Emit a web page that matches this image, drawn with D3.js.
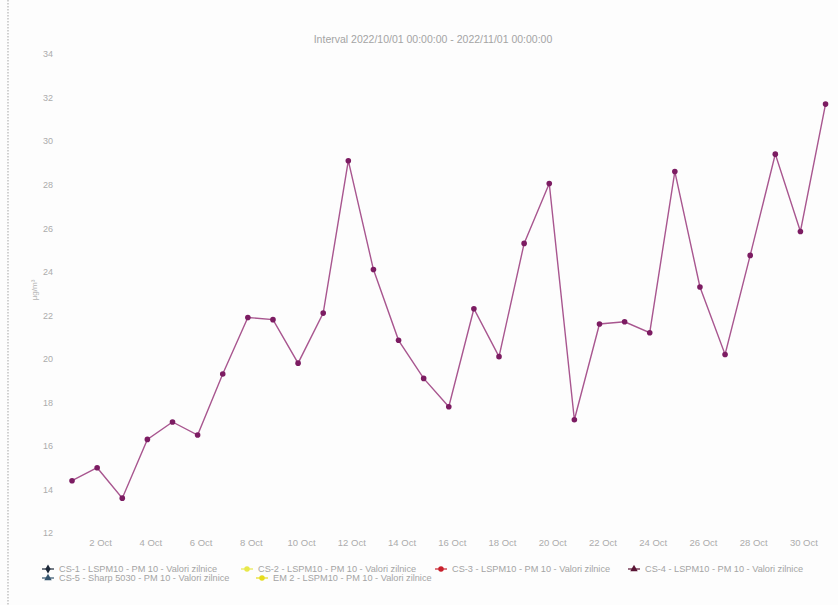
<!DOCTYPE html>
<html>
<head>
<meta charset="utf-8">
<script src="https://cdn.jsdelivr.net/npm/d3@7"></script>
<style>
  body { margin: 0; background: #fdfdfd; }
  text { font-family: "Liberation Sans", Arial, sans-serif; }
</style>
</head>
<body>
<div class="chart"></div>
<script>
var w = 838;
var h = 605;
var svg;
var colorText = "#acacac";
var colorLine = "#a8568f";
var colorDot = "#7c1c62";

// daily PM10 values, 1..31 Oct 2022
var days = [1, 2, 3, 4, 5, 6, 7, 8, 9, 10, 11, 12, 13, 14, 15, 16,
            17, 18, 19, 20, 21, 22, 23, 24, 25, 26, 27, 28, 29, 30, 31];
var values = [14.4, 15.0, 13.6, 16.3, 17.1, 16.5, 19.3, 21.9, 21.8, 19.8, 22.1, 29.1, 24.1, 20.85, 19.1, 17.8,
              22.3, 20.1, 25.3, 28.05, 17.2, 21.6, 21.7, 21.2, 28.6, 23.3, 20.2, 24.75, 29.4, 25.85, 31.7];
var yTicks = [12, 14, 16, 18, 20, 22, 24, 26, 28, 30, 32, 34];
var xTickDays = [2, 4, 6, 8, 10, 12, 14, 16, 18, 20, 22, 24, 26, 28, 30];
var legendNames = [
  "CS-1 - LSPM10 - PM 10 - Valori zilnice",
  "CS-2 - LSPM10 - PM 10 - Valori zilnice",
  "CS-3 - LSPM10 - PM 10 - Valori zilnice",
  "CS-4 - LSPM10 - PM 10 - Valori zilnice",
  "CS-5 - Sharp 5030 - PM 10 - Valori zilnice",
  "EM 2 - LSPM10 - PM 10 - Valori zilnice"
];
var legendColors = ["#1c2838", "#e8e84a", "#c8202c", "#5a1434", "#34546e", "#e6dc1e"];
var legendSymbols = [d3.symbolDiamond, d3.symbolCircle, d3.symbolCircle, d3.symbolTriangle, d3.symbolTriangle, d3.symbolCircle];

drawChart(".chart");

function day(d) {
  return new Date(2022, 9, d);
}

function drawChart(dom) {
  svg = d3.select(dom)
    .append("svg")
    .attr("width", w)
    .attr("height", h)
    .style("background", "#fdfdfd");

  // page edge of the scan
  svg.append("line")
    .attr("x1", 8).attr("y1", 0)
    .attr("x2", 8).attr("y2", h)
    .attr("stroke", "#b4b4b4")
    .attr("stroke-width", 1.2)
    .attr("stroke-dasharray", "1.5,1.5");

  var x = d3.scaleTime()
    .domain([new Date(2022, 8, 30, 12, 30), new Date(2022, 9, 31, 10, 0)])
    .range([60, 836]);

  var y = d3.scaleLinear()
    .domain([12, 34])
    .range([533, 54]);

  svg.append("text")
    .attr("x", 433)
    .attr("y", 43)
    .attr("text-anchor", "middle")
    .attr("font-size", "10.5")
    .attr("fill", "#a4a4a4")
    .text("Interval 2022/10/01 00:00:00 - 2022/11/01 00:00:00");

  var yAxis = d3.axisLeft(y)
    .tickValues(yTicks)
    .tickSize(0)
    .tickPadding(0);
  var yg = svg.append("g")
    .attr("transform", "translate(53,0)")
    .call(yAxis);
  yg.select(".domain").remove();
  yg.selectAll("text")
    .attr("font-size", "9")
    .attr("fill", colorText)
    .attr("font-family", "Liberation Sans, Arial, sans-serif");

  svg.append("text")
    .attr("transform", "translate(37,290) rotate(-90)")
    .attr("text-anchor", "middle")
    .attr("font-size", "8")
    .attr("fill", "#b4b4b4")
    .text("µg/m³");

  var xAxis = d3.axisBottom(x)
    .tickValues(xTickDays.map(day))
    .tickSize(0)
    .tickPadding(0)
    .tickFormat(d3.timeFormat("%-d Oct"));
  var xg = svg.append("g")
    .attr("transform", "translate(3,539)")
    .call(xAxis);
  xg.select(".domain").remove();
  xg.selectAll("text")
    .attr("font-size", "9.5")
    .attr("fill", colorText)
    .attr("font-family", "Liberation Sans, Arial, sans-serif");

  var points = days.map(function (d, i) { return { date: day(d), value: values[i] }; });

  var line = d3.line()
    .x(function (d) { return x(d.date); })
    .y(function (d) { return y(d.value); });

  svg.append("path")
    .datum(points)
    .attr("d", line)
    .attr("fill", "none")
    .attr("stroke", colorLine)
    .attr("stroke-width", 1.4);

  svg.selectAll(".dot")
    .data(points)
    .enter()
    .append("circle")
    .attr("class", "dot")
    .attr("cx", function (d) { return x(d.date); })
    .attr("cy", function (d) { return y(d.value); })
    .attr("r", 2.8)
    .attr("fill", colorDot);

  drawLegend();
}

function drawLegend() {
  var pos = [[48, 569], [247, 569], [441, 569], [634, 569], [48, 578], [262, 578]];
  legendNames.forEach(function (name, i) {
    var g = svg.append("g").attr("transform", "translate(" + pos[i][0] + "," + pos[i][1] + ")");
    g.append("line")
      .attr("x1", -6).attr("x2", 6)
      .attr("y1", 0).attr("y2", 0)
      .attr("stroke", legendColors[i])
      .attr("stroke-width", 1.2);
    g.append("path")
      .attr("d", d3.symbol().type(legendSymbols[i]).size(24)())
      .attr("fill", legendColors[i]);
    g.append("text")
      .attr("x", 11)
      .attr("y", 3)
      .attr("font-size", "9.2")
      .attr("fill", "#a4a4a4")
      .text(name);
  });
}
</script>
</body>
</html>
